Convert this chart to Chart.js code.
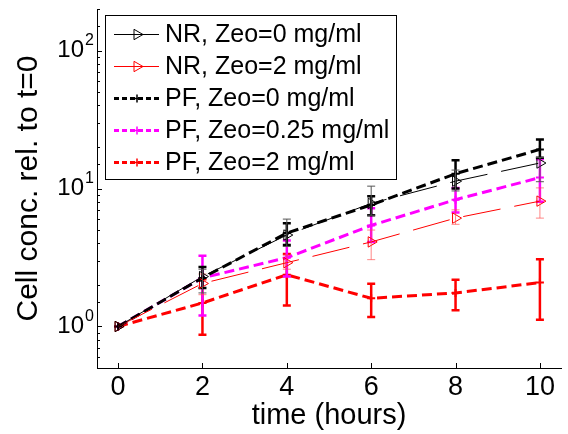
<!DOCTYPE html>
<html>
<head>
<meta charset="utf-8">
<script src="https://cdn.jsdelivr.net/npm/chart.js@4.4.1/dist/chart.umd.min.js"></script>
<style>
html, body { margin: 0; padding: 0; background: #fff; }
#chart { display: block; }
</style>
</head>
<body>
<canvas id="chart" width="568" height="434"></canvas>
<script>
//Time points (hours) and x tick labels
var times = [0, 2, 4, 6, 8, 10];
var x_ticks = [0, 2, 4, 6, 8, 10];

//Decade tick labels on the log axis
var y_ticks = [1, 10, 100];
var y_exponents = ['0', '1', '2'];

//Legend labels
var labels = [
    'NR, Zeo=0 mg/ml',
    'NR, Zeo=2 mg/ml',
    'PF, Zeo=0 mg/ml',
    'PF, Zeo=0.25 mg/ml',
    'PF, Zeo=2 mg/ml'
];

//Cell conc. relative to t=0, with error bar ends
var nr_0 = [1, 2.3, 4.6, 7.8, 11.3, 15.3];
var nr_0_low = [1, 1.75, 3.8, 6.4, 9.6, 11.2];
var nr_0_high = [1, 2.6, 6.0, 10.4, 13.6, 16.8];

var nr_2 = [1, 2.05, 2.9, 4.1, 6.1, 8.1];
var nr_2_low = [1, 1.7, 2.6, 3.05, 5.5, 6.1];
var nr_2_high = [1, 2.4, 3.3, 5.0, 7.0, 10.1];

var pf_0 = [1, 2.25, 4.75, 7.6, 12.8, 19.2];
var pf_0_low = [1, 1.9, 3.9, 6.4, 10.0, 16.7];
var pf_0_high = [1, 2.7, 5.6, 8.8, 16.0, 22.7];

var pf_025 = [1, 2.25, 3.15, 5.4, 8.3, 12.0];
var pf_025_low = [1, 1.2, 2.3, 4.1, 6.7, 8.0];
var pf_025_high = [1, 3.25, 4.2, 7.2, 10.1, 16.3];

var pf_2 = [1, 1.48, 2.37, 1.6, 1.75, 2.08];
var pf_2_low = [1, 0.87, 1.42, 1.17, 1.31, 1.12];
var pf_2_high = [1, 2.2, 3.35, 2.04, 2.18, 3.07];

var values = [nr_0, nr_2, pf_0, pf_025, pf_2];
var lows = [nr_0_low, nr_2_low, pf_0_low, pf_025_low, pf_2_low];
var highs = [nr_0_high, nr_2_high, pf_0_high, pf_025_high, pf_2_high];

//Styles per series
var colours = ['#000000', '#ff0000', '#000000', '#ff00ff', '#ff0000'];
var bar_colours = ['#555555', 'rgba(255,70,70,0.65)', '#000000', '#ff00ff', '#ff0000'];
var widths = [1, 1, 3, 3, 3];
var dashes = [[38, 14], [38, 14], [10, 5], [10, 5], [10, 5]];
var legend_dashes = [[], [], [5, 3], [5, 3], [5, 3]];
var markers = ['triangle', 'triangle', 'cross', 'cross', 'cross'];

var font_name = "'Liberation Sans', Arial, sans-serif";
Chart.defaults.font.family = font_name;
Chart.defaults.color = '#000';

//Builds datasets
var datasets = [];
for (var i = 0; i < values.length; i++) {
    var points = [];
    for (var j = 0; j < times.length; j++) {
        points.push({ x: times[j], y: values[i][j] });
    }
    datasets.push({
        label: labels[i],
        data: points,
        borderColor: colours[i],
        borderWidth: widths[i],
        borderDash: dashes[i],
        fill: false,
        tension: 0,
        pointStyle: markers[i],
        pointRotation: markers[i] == 'triangle' ? 90 : 0,
        pointRadius: markers[i] == 'triangle' ? 6 : 4,
        pointBorderColor: colours[i],
        pointBackgroundColor: 'rgba(0,0,0,0)',
        pointBorderWidth: markers[i] == 'triangle' ? 1 : 2
    });
}

//Error bars, inward ticks, log labels and legend box
var extras = {
    id: 'extras',
    afterDatasetDraw: function(chart, args) {
        var i = args.index;
        var ctx = chart.ctx;
        var xs = chart.scales.x;
        var ys = chart.scales.y;
        ctx.save();
        ctx.strokeStyle = bar_colours[i];
        ctx.lineWidth = widths[i] == 1 ? 1 : 2.5;
        for (var j = 0; j < times.length; j++) {
            if (lows[i][j] == highs[i][j]) continue;
            var x = xs.getPixelForValue(times[j]);
            var y1 = ys.getPixelForValue(lows[i][j]);
            var y2 = ys.getPixelForValue(highs[i][j]);
            ctx.beginPath();
            ctx.moveTo(x, y1);
            ctx.lineTo(x, y2);
            ctx.moveTo(x - 4, y1);
            ctx.lineTo(x + 4, y1);
            ctx.moveTo(x - 4, y2);
            ctx.lineTo(x + 4, y2);
            ctx.stroke();
        }
        ctx.restore();
    },
    afterDraw: function(chart) {
        var ctx = chart.ctx;
        var xs = chart.scales.x;
        var ys = chart.scales.y;
        var area = chart.chartArea;
        ctx.save();
        ctx.strokeStyle = '#000';
        ctx.lineWidth = 1;

        //X ticks point inward
        ctx.beginPath();
        for (var i = 0; i < x_ticks.length; i++) {
            var x = Math.round(xs.getPixelForValue(x_ticks[i])) + 0.5;
            ctx.moveTo(x, area.bottom);
            ctx.lineTo(x, area.bottom - 5);
        }

        //Y ticks from the log scale, majors longer
        for (var i = 0; i < ys.ticks.length; i++) {
            var v = ys.ticks[i].value;
            var lg = Math.log10(v);
            var major = Math.abs(lg - Math.round(lg)) < 1e-6;
            var y = Math.round(ys.getPixelForValue(v)) + 0.5;
            ctx.moveTo(area.left, y);
            ctx.lineTo(area.left + (major ? 5 : 3), y);
        }
        ctx.stroke();

        //Decade labels as 10 with raised exponent
        ctx.fillStyle = '#000';
        for (var i = 0; i < y_ticks.length; i++) {
            var y = ys.getPixelForValue(y_ticks[i]);
            ctx.font = '24px ' + font_name;
            ctx.textAlign = 'right';
            ctx.textBaseline = 'middle';
            ctx.fillText('10', 84, y);
            ctx.font = '16px ' + font_name;
            ctx.textAlign = 'left';
            ctx.fillText(y_exponents[i], 85, y - 10);
        }

        //Legend box
        var lx = 105.5, ly = 15.5, lw = 291, lh = 164;
        ctx.fillStyle = '#fff';
        ctx.fillRect(lx, ly, lw, lh);
        ctx.strokeRect(lx, ly, lw, lh);
        for (var i = 0; i < labels.length; i++) {
            var ry = 34.5 + i * 32;
            ctx.strokeStyle = colours[i];
            ctx.lineWidth = widths[i];
            ctx.setLineDash(legend_dashes[i]);
            ctx.beginPath();
            ctx.moveTo(114, ry);
            ctx.lineTo(159, ry);
            ctx.stroke();
            ctx.setLineDash([]);
            ctx.fillStyle = 'rgba(0,0,0,0)';
            ctx.lineWidth = markers[i] == 'triangle' ? 1 : 1.5;
            Chart.helpers.drawPoint(ctx, {
                pointStyle: markers[i],
                rotation: markers[i] == 'triangle' ? 90 : 0,
                radius: markers[i] == 'triangle' ? 6 : 4,
                borderWidth: ctx.lineWidth
            }, 137, ry);
            ctx.fillStyle = '#000';
            ctx.font = '25px ' + font_name;
            ctx.textAlign = 'left';
            ctx.textBaseline = 'middle';
            ctx.fillText(labels[i], 165, ry + 1);
        }
        ctx.restore();
    }
};

var chart = new Chart(document.getElementById('chart'), {
    type: 'line',
    data: { datasets: datasets },
    plugins: [extras],
    options: {
        responsive: false,
        animation: false,
        devicePixelRatio: 1,
        layout: { padding: { top: 9, right: 5, left: 0, bottom: 0 } },
        plugins: {
            legend: { display: false },
            tooltip: { enabled: false }
        },
        scales: {
            x: {
                type: 'linear',
                min: -0.5,
                max: 10.5,
                afterBuildTicks: function(scale) {
                    scale.ticks = x_ticks.map(function(v) { return { value: v }; });
                },
                afterFit: function(scale) { scale.height = 66; },
                grid: { display: false, drawTicks: false },
                border: { display: true, color: '#000', width: 1 },
                ticks: { font: { size: 27 }, color: '#000', padding: 3, maxRotation: 0 },
                title: {
                    display: true,
                    text: 'time (hours)',
                    font: { size: 29 },
                    color: '#000',
                    padding: { top: 0, bottom: 1 }
                }
            },
            y: {
                type: 'logarithmic',
                min: 0.5,
                max: 200,
                afterFit: function(scale) { scale.width = 97; },
                grid: { display: false, drawTicks: false },
                border: { display: true, color: '#000', width: 1 },
                ticks: { display: false },
                title: {
                    display: true,
                    text: 'Cell conc. rel. to t=0',
                    font: { size: 30 },
                    color: '#000',
                    padding: { top: 11, bottom: 0 }
                }
            }
        }
    }
});
</script>
</body>
</html>
